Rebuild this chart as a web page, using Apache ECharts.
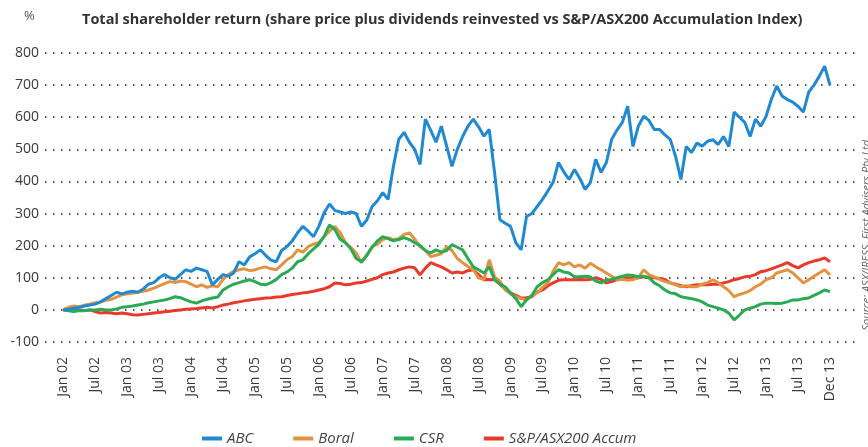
<!DOCTYPE html>
<html>
<head>
<meta charset="utf-8">
<script src="https://cdn.jsdelivr.net/npm/echarts@6/dist/echarts.min.js"></script>
<style>
  html, body { margin: 0; padding: 0; background: #fff; }
  #chart { width: 868px; height: 447px; }
</style>
</head>
<body>
<div id="chart"></div>
<script>
// tick labels, one every 6 steps (Jan 02 .. Jul 13, then Dec 13)
var tickLabels = ['Jan 02','Jul 02','Jan 03','Jul 03','Jan 04','Jul 04','Jan 05','Jul 05',
  'Jan 06','Jul 06','Jan 07','Jul 07','Jan 08','Jul 08','Jan 09','Jul 09','Jan 10','Jul 10',
  'Jan 11','Jul 11','Jan 12','Jul 12','Jan 13','Jul 13','Dec 13']

// total return in %, roughly monthly steps
var abc = [
  0, 2, 5, 8, 12, 15,
  18, 25, 35, 45, 55, 50,
  55, 58, 55, 65, 80, 85,
  100, 110, 100, 95, 110, 125,
  120, 130, 125, 120, 78, 95,
  110, 105, 115, 150, 140, 165,
  175, 187, 170, 155, 150, 185,
  197, 215, 240, 260, 245, 228,
  260, 303, 330, 310, 305, 300,
  305, 300, 260, 280, 322, 340,
  365, 344, 447, 531, 553, 522,
  500, 453, 594, 560, 522, 572,
  510, 447, 500, 540, 572, 594,
  570, 541, 562, 428, 281, 270,
  260, 209, 187, 291, 300, 322,
  344, 370, 397, 459, 430, 406,
  437, 410, 375, 397, 469, 428,
  459, 531, 560, 584, 634, 509,
  572, 603, 590, 562, 562, 545,
  531, 478, 406, 509, 490, 520,
  510, 525, 530, 515, 540, 509,
  616, 600, 584, 540, 594, 572,
  603, 656, 697, 666, 655, 647,
  634, 616, 678, 700, 728, 759,
  700
]
var boral = [
  0, 8, 12, 10, 15, 18,
  22, 25, 30, 33, 40, 47,
  50, 52, 55, 58, 62, 68,
  75, 82, 88, 85, 90, 88,
  80, 72, 78, 70, 75, 72,
  95, 110, 120, 125, 128, 122,
  125, 130, 134, 128, 125, 140,
  156, 166, 187, 180, 197, 205,
  210, 228, 245, 260, 240, 209,
  195, 177, 147, 170, 197, 205,
  219, 225, 219, 222, 235, 240,
  220, 197, 185, 166, 170, 175,
  197, 185, 160, 147, 135, 125,
  100, 94, 156, 103, 90, 62,
  50, 41, 35, 31, 45, 53,
  70, 84, 120, 147, 140, 147,
  134, 140, 130, 145, 134, 125,
  115, 105, 94, 95, 92, 94,
  100, 125, 110, 103, 95, 88,
  84, 78, 72, 75, 72, 72,
  80, 85, 94, 85, 72, 60,
  41, 48, 53, 60, 72, 80,
  94, 100, 115, 120, 125, 115,
  100, 84, 94, 105, 115, 125,
  109
]
var csr = [
  0, -3, -5, -2, -3, 0,
  0, 2, 0, 0, 3, 8,
  10, 12, 15, 18, 22, 25,
  28, 31, 35, 41, 38, 31,
  25, 21, 28, 33, 37, 40,
  62, 72, 80, 85, 90, 94,
  88, 80, 78, 85, 95, 110,
  118, 130, 150, 156, 175, 190,
  205, 230, 265, 250, 220, 209,
  190, 160, 150, 170, 195, 215,
  228, 222, 215, 219, 225, 219,
  209, 200, 185, 177, 187, 180,
  185, 203, 195, 187, 160, 134,
  125, 115, 134, 94, 80, 72,
  53, 35, 10, 31, 45, 72,
  85, 94, 110, 125, 118, 115,
  103, 103, 105, 103, 90, 84,
  94, 95, 100, 105, 109, 107,
  103, 105, 100, 84, 75, 62,
  53, 50, 41, 38, 35, 31,
  25, 15, 10, 5, 0, -10,
  -31, -16, 0, 5, 10, 18,
  21, 21, 20, 21, 25, 31,
  31, 35, 37, 45, 53, 62,
  57
]
var asx200 = [
  0, 0, 2, 0, -2, 0,
  -5, -10, -8, -10, -12, -10,
  -12, -15, -16, -14, -12, -10,
  -8, -6, -4, -2, 0, 2,
  3, 4, 6, 8, 6, 10,
  15, 18, 22, 25, 28, 31,
  33, 35, 37, 38, 40, 41,
  45, 48, 50, 53, 55, 58,
  62, 66, 72, 84, 82, 78,
  80, 84, 85, 90, 95, 100,
  110, 115, 118, 125, 130, 134,
  131, 109, 130, 147, 140, 134,
  125, 115, 118, 115, 122, 125,
  110, 94, 95, 94, 80, 65,
  53, 45, 37, 38, 41, 55,
  62, 75, 84, 92, 94, 94,
  94, 95, 94, 95, 100, 95,
  84, 88, 94, 96, 100, 98,
  100, 103, 100, 100, 98, 95,
  84, 80, 75, 72, 75, 78,
  78, 78, 80, 80, 84, 88,
  94, 98, 103, 105, 110, 119,
  122, 128, 134, 140, 147, 138,
  131, 140, 147, 152, 156, 162,
  150
]

var font = 'Open Sans, Noto Sans, sans-serif'
var chart = echarts.init(document.getElementById('chart'), null, { renderer: 'canvas' })

function toPoints (arr) {
  return arr.map(function (v, i) { return [i, v] })
}

function line (name, arr, color) {
  return {
    name: name,
    type: 'line',
    data: toPoints(arr),
    symbol: 'none',
    lineStyle: { color: color, width: 3 },
    itemStyle: { color: color }
  }
}

var option = {
  animation: false,
  backgroundColor: '#fff',
  title: {
    text: 'Total shareholder return (share price plus dividends reinvested vs S&P/ASX200 Accumulation Index)',
    left: 77,
    top: 7,
    textStyle: { fontFamily: font, fontSize: 14.5, fontWeight: 'bold', color: '#333' }
  },
  graphic: [
    { type: 'text', left: 24, top: 10, style: { text: '%', fontFamily: font, fontSize: 13, fill: '#555' } },
    {
      // source note on the right edge, reading upwards, partly cut off
      type: 'text', x: 867, y: 140, rotation: Math.PI / 2,
      style: {
        text: 'Source: ASX/IRESS, First Advisers Pty Ltd',
        fontFamily: font, fontSize: 11, fontStyle: 'italic', fill: '#666',
        align: 'right', verticalAlign: 'middle'
      }
    }
  ],
  legend: {
    left: 197,
    top: 426,
    icon: 'rect',
    itemWidth: 20,
    itemHeight: 4,
    itemGap: 40,
    textStyle: { fontFamily: font, fontSize: 15, fontStyle: 'italic', color: '#444' },
    data: ['ABC', 'Boral', 'CSR', 'S&P/ASX200 Accum']
  },
  grid: { left: 45, right: 13, top: 53, bottom: 105 },
  xAxis: {
    type: 'value',
    min: -3.44,
    max: 148.7,
    axisLine: { show: false },
    axisTick: { show: false },
    splitLine: { show: false },
    axisLabel: {
      customValues: tickLabels.map(function (_, k) { return k * 6 }),
      formatter: function (v) { return tickLabels[Math.round(v / 6)] },
      rotate: 90,
      margin: 15,
      fontFamily: font,
      fontSize: 14,
      color: '#3a3a3a'
    }
  },
  yAxis: {
    type: 'value',
    min: -100,
    max: 800,
    interval: 100,
    axisLine: { show: false },
    axisTick: { show: false },
    axisLabel: { margin: 6, fontFamily: font, fontSize: 14, color: '#3a3a3a' },
    splitLine: { lineStyle: { color: '#222', width: 1.5, type: [1.5, 6.5] } }
  },
  series: [
    line('S&P/ASX200 Accum', asx200, '#e8392b'),
    line('Boral', boral, '#e39340'),
    line('CSR', csr, '#2aaa55'),
    line('ABC', abc, '#2089d2')
  ]
}
chart.setOption(option)
</script>
</body>
</html>
